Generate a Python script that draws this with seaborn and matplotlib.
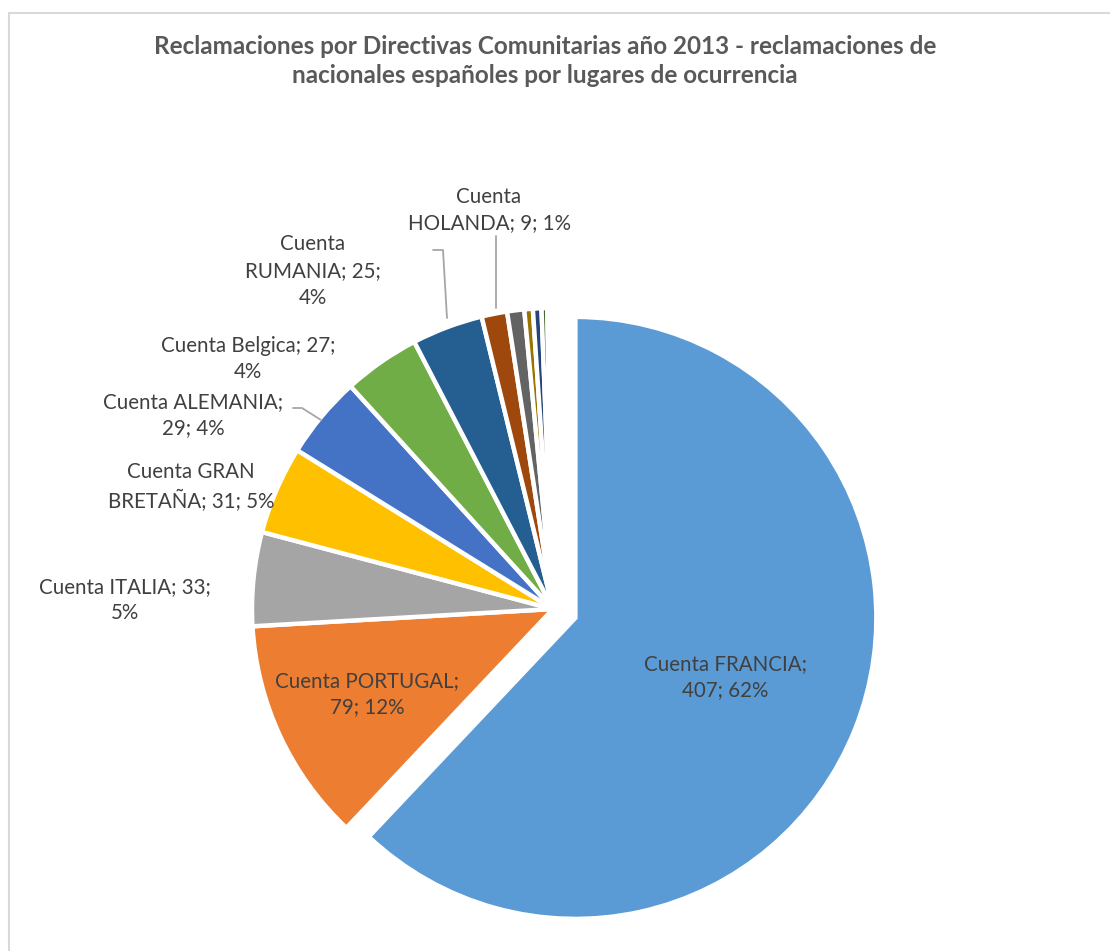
import matplotlib
matplotlib.use("Agg")
import matplotlib.pyplot as plt
import seaborn as sns
import numpy as np

# ---- data ----
paises = ["FRANCIA", "PORTUGAL", "ITALIA", "GRAN BRETAÑA", "ALEMANIA", "Belgica",
          "RUMANIA", "HOLANDA", "Otro 1", "Otro 2", "Otro 3", "Otro 4", "Otro 5", "Otro 6"]
cuentas = [407, 79, 33, 31, 29, 27, 25, 9, 6, 3, 3, 2, 1, 1]
colores = ["#5B9BD5", "#ED7D31", "#A5A5A5", "#FFC000", "#4472C4", "#70AD47",
           "#255E91", "#9E480E", "#636363", "#997300", "#264478", "#43682B",
           "#698ED0", "#9DC3E6"]
titulo = ("Reclamaciones por Directivas Comunitarias año 2013 - reclamaciones de\n"
          "nacionales españoles por lugares de ocurrencia")

sns.set_theme(style="white")
plt.rcParams["font.family"] = ["Lato", "DejaVu Sans"]

W, H = 1110, 951
fig = plt.figure(figsize=(W / 100, H / 100), dpi=100)
ax = fig.add_axes([0, 0, 1, 1])

# pixel mapping: center (553, 609), radius 301 px
cx, cy, R = 553, 609, 301
def px(x, y):
    return ((x - cx) / R, (cy - y) / R)

total = sum(cuentas)
explode = [0.08] + [0.0] * (len(cuentas) - 1)
wedges, _ = ax.pie(cuentas, colors=colores, startangle=90, counterclock=False,
                   explode=explode, radius=1.0,
                   wedgeprops=dict(edgecolor="white", linewidth=3.2))
for w in wedges:
    w.set_clip_on(False)

ax.set_xlim((0 - cx) / R, (W - cx) / R)
ax.set_ylim((cy - H) / R, (cy - 0) / R)
ax.set_aspect("auto")
ax.axis("off")

def etiqueta(i, lines):
    nombre = paises[i]
    pct = round(100 * cuentas[i] / total)
    return lines.format(n=nombre, v=cuentas[i], p=pct)

# label layout (pixel centers)
layout = [
    (0, "Cuenta {n};\n{v}; {p}%", 725, 677),
    (1, "Cuenta {n};\n{v}; {p}%", 367, 694),
    (2, "Cuenta {n}; {v};\n{p}%", 125, 600),
    (3, "Cuenta GRAN\nBRETAÑA; {v}; {p}%", 191, 487),
    (4, "Cuenta {n};\n{v}; {p}%", 193, 415),
    (5, "Cuenta {n}; {v};\n{p}%", 248, 359),
    (6, "Cuenta\n{n}; {v};\n{p}%", 313, 271),
    (7, "Cuenta\n{n}; {v}; {p}%", 489, 210),
]
for i, fmt, x, y in layout:
    X, Y = px(x, y)
    ax.text(X, Y, etiqueta(i, fmt), ha="center", va="center", fontsize=14.8,
            color="#404040", linespacing=1.42)

# leader lines
leaders = [
    [(293, 408), (302, 408), (321, 420)],
    [(433, 250), (443, 250), (447, 318)],
    [(496, 236), (496, 308)],
]
for pts in leaders:
    xs, ys = zip(*[px(a, b) for a, b in pts])
    ax.plot(xs, ys, color="#A6A6A6", lw=1.3, clip_on=False)

fig.text(545 / W, 1 - 61 / H, titulo, ha="center", va="center", fontsize=17.5,
         fontweight="bold", color="#595959", linespacing=1.3)

# chart frame
fig.patches.append(plt.Rectangle((8.5 / W, -0.1), 1.2, 1 - 12.5 / H + 0.1,
                                 transform=fig.transFigure, fill=False,
                                 edgecolor="#D9D9D9", lw=1.5))

fig.savefig("out.png", dpi=100, facecolor="white")
